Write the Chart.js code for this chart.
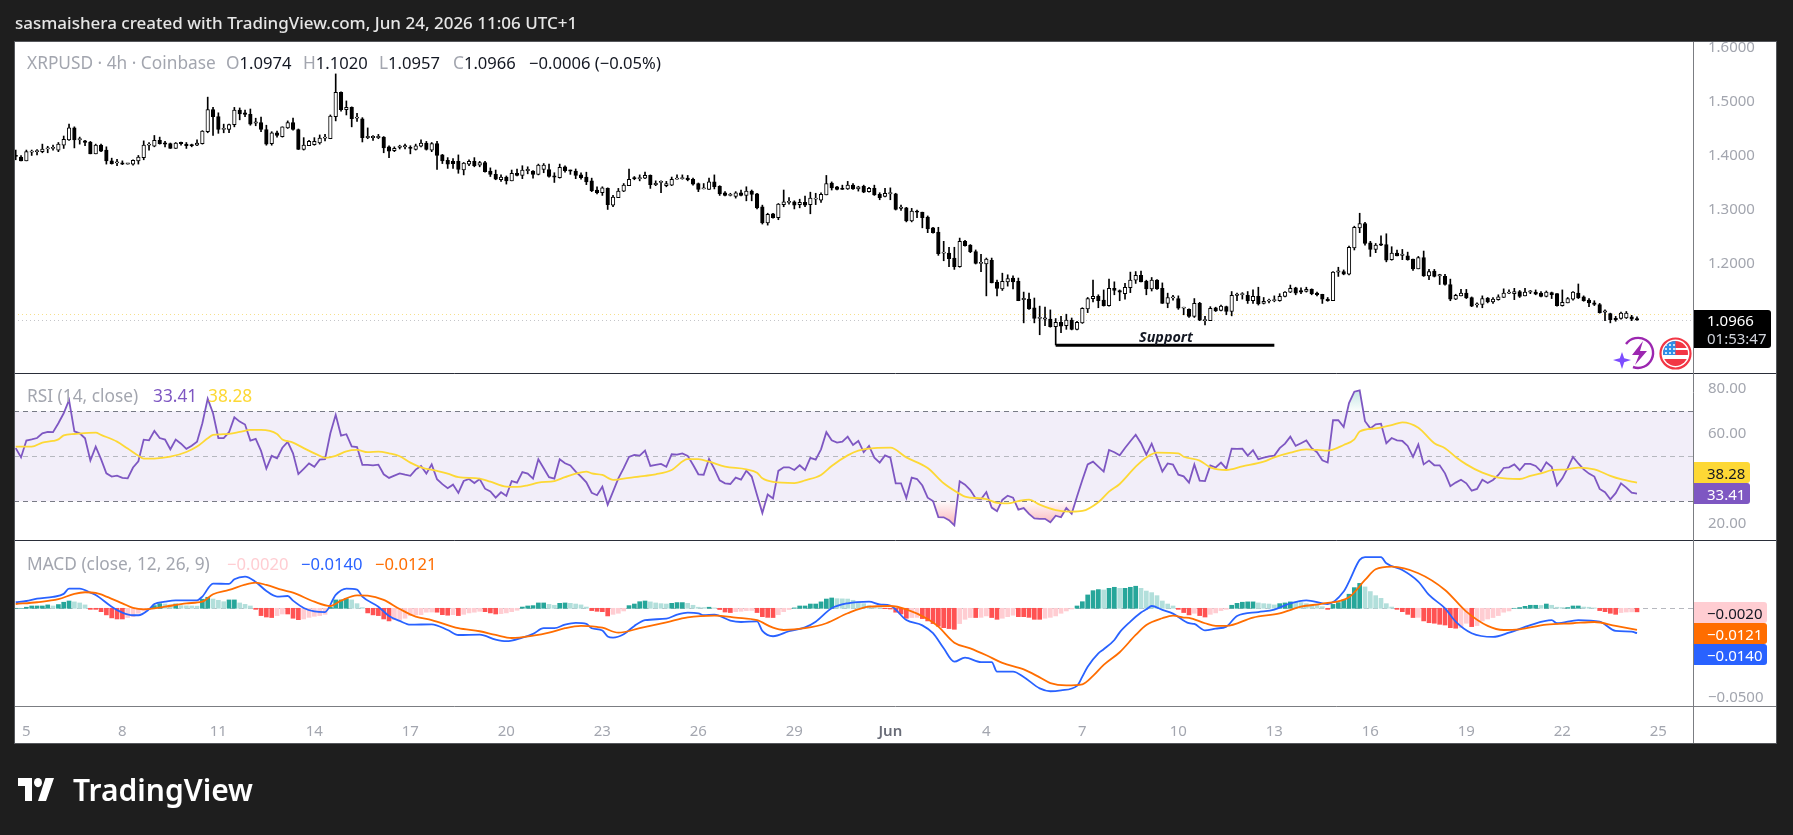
<!DOCTYPE html>
<html>
<head>
<meta charset="utf-8">
<title>XRPUSD 4h</title>
<script src="https://cdn.jsdelivr.net/npm/chart.js@4"></script>
<style>
  html,body{margin:0;padding:0;background:#1e1e1e;width:1793px;height:835px;overflow:hidden}
  canvas{position:absolute;left:0;top:0}
  .t{position:absolute;white-space:pre;font-family:"Noto Sans",sans-serif;font-size:17.3px;line-height:20px;transform:translateY(-50%)}
  .v{font-size:16.6px}
  .g{color:#a3a6af}
  .k{color:#131722}
  .box{position:absolute;left:1694px;box-sizing:border-box;padding-left:13px;border-radius:0 3px 3px 0;font-family:"Noto Sans",sans-serif;font-size:15px;display:flex;align-items:center;justify-content:flex-start}
  svg{position:absolute}
</style>
</head>
<body>
<canvas id="c" width="1793" height="835"></canvas>

<div class="t" style="left:15px;top:23px;color:#e6e6e6;font-weight:500;font-size:17px">sasmaishera created with TradingView.com, Jun 24, 2026 11:06 UTC+1</div>

<div class="t g" style="left:27px;top:63px">XRPUSD · 4h · Coinbase</div>
<div class="t g" style="left:226px;top:63px">O<span class="k v">1.0974</span></div>
<div class="t g" style="left:303px;top:63px">H<span class="k v">1.1020</span></div>
<div class="t g" style="left:379px;top:63px">L<span class="k v">1.0957</span></div>
<div class="t g" style="left:453px;top:63px">C<span class="k v">1.0966</span></div>
<div class="t k v" style="left:529px;top:63px">−0.0006 (−0.05%)</div>

<div class="t g" style="left:27px;top:396px">RSI (14, close)</div>
<div class="t" style="left:153px;top:396px;color:#7e57c2">33.41</div>
<div class="t" style="left:208px;top:396px;color:#fdd835">38.28</div>

<div class="t g" style="left:27px;top:564px">MACD (close, 12, 26, 9)</div>
<div class="t v" style="left:227px;top:564px;color:#ffcdd2">−0.0020</div>
<div class="t v" style="left:301px;top:564px;color:#2962ff">−0.0140</div>
<div class="t v" style="left:375px;top:564px;color:#ff6d00">−0.0121</div>

<div class="t k" style="left:1139px;top:337px;font-style:italic;font-weight:700;font-size:14.4px">Support</div>

<div class="box" style="top:310px;width:77px;height:38px;background:#000;color:#fff;flex-direction:column;align-items:flex-start;justify-content:center;line-height:18px"><span>1.0966</span><span style="color:#d1d4dc">01:53:47</span></div>
<div class="box" style="top:462px;width:56px;height:21px;background:#fdd835;color:#131722">38.28</div>
<div class="box" style="top:483px;width:56px;height:21px;background:#7e57c2;color:#fff">33.41</div>
<div class="box" style="top:602px;width:73px;height:21px;background:#ffcdd2;color:#131722">−0.0020</div>
<div class="box" style="top:623px;width:73px;height:21px;background:#ff6d00;color:#fff">−0.0121</div>
<div class="box" style="top:644px;width:73px;height:21px;background:#2962ff;color:#fff">−0.0140</div>

<!-- event badges on the price pane -->
<svg style="left:1613px;top:335px" width="46" height="36" viewBox="0 0 46 36">
  <path d="M13 9A15 15 0 1 1 20 32" fill="none" stroke="#9c27b0" stroke-width="2.4"/>
  <path d="M30 6L19 20h7l-4 10 12-14h-7z" fill="#9c27b0"/>
  <path d="M9 17l2.2 6.300L18 25l-6.800 2.200L9 34l-2.200-6.800L0 25l6.800-1.700z" fill="#7c4dff"/>
</svg>
<svg style="left:1659px;top:337px" width="33" height="33" viewBox="0 0 33 33">
  <defs><clipPath id="flagDisc"><circle cx="16.5" cy="16.5" r="12.5"/></clipPath></defs>
  <g clip-path="url(#flagDisc)">
    <rect width="33" height="33" fill="#fff"/>
    <rect y="4" width="33" height="7" fill="#f23645"/>
    <rect y="13" width="33" height="5" fill="#f23645"/>
    <rect y="22" width="33" height="7" fill="#f23645"/>
    <rect width="16.5" height="18" fill="#2f8fe8"/>
    <g fill="#fff"><circle cx="7" cy="8" r="1"/><circle cx="11" cy="8" r="1"/><circle cx="15" cy="8" r="1"/><circle cx="7" cy="12" r="1"/><circle cx="11" cy="12" r="1"/><circle cx="15" cy="12" r="1"/><circle cx="7" cy="16" r="1"/><circle cx="11" cy="16" r="1"/><circle cx="15" cy="16" r="1"/></g>
  </g>
  <circle cx="16.5" cy="16.5" r="15" fill="none" stroke="#f23645" stroke-width="2.2"/>
</svg>

<!-- wordmark -->
<svg style="left:18px;top:778px" width="36" height="23" viewBox="0 0 36 20" preserveAspectRatio="none"><path d="M14 20H7V7H0V0h14zM28 20h-8L27.500 0H36z" fill="#fff"/><circle cx="20" cy="4" r="4" fill="#fff"/></svg>
<div class="t" style="left:73px;top:790px;color:#fff;font-weight:600;font-size:30px;line-height:34px">TradingView</div>

<script>
// OHLC of the 4h candles, oldest first
const opens=[1.401,1.398,1.391,1.407,1.408,1.408,1.413,1.414,1.411,1.420,1.430,1.452,1.430,1.428,1.426,1.404,1.420,1.411,1.391,1.387,
1.387,1.385,1.385,1.391,1.397,1.420,1.418,1.429,1.423,1.423,1.414,1.424,1.422,1.420,1.420,1.423,1.445,1.486,1.473,1.449,
1.449,1.458,1.485,1.480,1.477,1.461,1.462,1.449,1.423,1.443,1.436,1.452,1.462,1.449,1.412,1.419,1.421,1.424,1.433,1.432,
1.473,1.518,1.486,1.490,1.470,1.469,1.434,1.434,1.434,1.435,1.417,1.410,1.416,1.417,1.416,1.412,1.418,1.424,1.411,1.423,
1.402,1.392,1.390,1.390,1.374,1.385,1.390,1.383,1.388,1.372,1.366,1.356,1.361,1.354,1.368,1.364,1.373,1.372,1.366,1.375,
1.375,1.363,1.360,1.380,1.373,1.372,1.365,1.361,1.354,1.337,1.332,1.340,1.309,1.323,1.335,1.345,1.359,1.358,1.359,1.364,
1.347,1.351,1.345,1.346,1.357,1.358,1.359,1.357,1.349,1.339,1.338,1.352,1.344,1.332,1.327,1.325,1.332,1.327,1.335,1.330,
1.306,1.276,1.293,1.286,1.310,1.314,1.315,1.310,1.314,1.310,1.320,1.318,1.328,1.350,1.343,1.340,1.339,1.346,1.339,1.344,
1.334,1.340,1.329,1.325,1.330,1.330,1.303,1.304,1.280,1.298,1.296,1.287,1.267,1.259,1.220,1.220,1.211,1.195,1.242,1.235,
1.223,1.201,1.200,1.207,1.166,1.154,1.167,1.174,1.168,1.134,1.135,1.119,1.099,1.098,1.098,1.084,1.092,1.086,1.096,1.079,
1.091,1.117,1.136,1.140,1.133,1.123,1.155,1.151,1.145,1.156,1.170,1.179,1.168,1.154,1.170,1.155,1.127,1.137,1.136,1.118,
1.116,1.103,1.127,1.095,1.095,1.119,1.114,1.121,1.112,1.142,1.143,1.142,1.132,1.140,1.127,1.131,1.132,1.132,1.140,1.148,
1.156,1.151,1.149,1.153,1.146,1.144,1.135,1.132,1.185,1.186,1.181,1.230,1.267,1.275,1.239,1.227,1.236,1.236,1.208,1.220,
1.216,1.215,1.209,1.191,1.212,1.178,1.187,1.178,1.177,1.162,1.135,1.141,1.146,1.138,1.124,1.125,1.137,1.130,1.134,1.138,
1.146,1.145,1.149,1.141,1.148,1.148,1.146,1.140,1.147,1.145,1.123,1.128,1.135,1.146,1.139,1.133,1.128,1.125,1.111,1.108,
1.099,1.099,1.100,1.102,1.0974];
const highs=[1.411,1.401,1.411,1.411,1.412,1.422,1.418,1.420,1.425,1.437,1.459,1.454,1.435,1.429,1.427,1.422,1.422,1.417,1.396,1.394,
1.391,1.386,1.393,1.401,1.428,1.425,1.438,1.435,1.427,1.424,1.425,1.426,1.425,1.422,1.430,1.447,1.509,1.490,1.480,1.459,
1.459,1.490,1.489,1.485,1.487,1.470,1.472,1.457,1.445,1.446,1.454,1.465,1.470,1.450,1.434,1.429,1.434,1.439,1.440,1.476,
1.552,1.519,1.502,1.491,1.479,1.471,1.452,1.438,1.440,1.436,1.419,1.417,1.420,1.422,1.419,1.422,1.430,1.427,1.425,1.427,
1.403,1.397,1.395,1.402,1.388,1.393,1.397,1.390,1.390,1.378,1.374,1.365,1.363,1.374,1.376,1.382,1.380,1.373,1.385,1.386,
1.385,1.369,1.385,1.382,1.374,1.376,1.369,1.370,1.359,1.343,1.343,1.341,1.327,1.340,1.349,1.376,1.362,1.365,1.370,1.365,
1.354,1.354,1.353,1.361,1.365,1.365,1.364,1.359,1.350,1.349,1.359,1.365,1.345,1.334,1.331,1.334,1.337,1.343,1.337,1.331,
1.309,1.294,1.294,1.312,1.337,1.323,1.317,1.320,1.326,1.333,1.331,1.332,1.364,1.352,1.344,1.346,1.353,1.349,1.344,1.346,
1.342,1.346,1.332,1.340,1.341,1.331,1.309,1.305,1.303,1.300,1.296,1.289,1.268,1.268,1.242,1.231,1.231,1.248,1.244,1.236,
1.226,1.218,1.211,1.211,1.170,1.183,1.180,1.178,1.174,1.148,1.146,1.137,1.122,1.120,1.115,1.099,1.103,1.107,1.100,1.094,
1.119,1.138,1.170,1.143,1.152,1.172,1.167,1.152,1.164,1.185,1.186,1.187,1.170,1.175,1.171,1.165,1.146,1.142,1.141,1.120,
1.117,1.136,1.129,1.103,1.121,1.120,1.124,1.122,1.149,1.146,1.147,1.149,1.152,1.157,1.138,1.135,1.141,1.145,1.149,1.161,
1.157,1.156,1.157,1.154,1.148,1.144,1.138,1.186,1.194,1.189,1.233,1.270,1.294,1.277,1.242,1.238,1.252,1.256,1.232,1.226,
1.227,1.222,1.209,1.214,1.224,1.190,1.190,1.181,1.181,1.172,1.144,1.153,1.153,1.139,1.128,1.141,1.138,1.138,1.143,1.154,
1.152,1.155,1.151,1.155,1.151,1.152,1.149,1.150,1.148,1.145,1.152,1.138,1.149,1.163,1.141,1.136,1.132,1.127,1.115,1.109,
1.103,1.111,1.112,1.105,1.1020];
const lows=[1.393,1.391,1.391,1.401,1.402,1.406,1.406,1.411,1.408,1.414,1.429,1.415,1.422,1.419,1.404,1.404,1.408,1.385,1.385,1.382,
1.384,1.385,1.383,1.385,1.393,1.411,1.417,1.422,1.417,1.414,1.414,1.420,1.414,1.417,1.419,1.422,1.443,1.438,1.442,1.443,
1.443,1.454,1.467,1.473,1.457,1.456,1.445,1.420,1.420,1.435,1.435,1.451,1.448,1.412,1.411,1.419,1.420,1.422,1.428,1.432,
1.465,1.483,1.476,1.454,1.464,1.426,1.432,1.429,1.432,1.406,1.397,1.408,1.413,1.413,1.404,1.411,1.417,1.411,1.408,1.375,
1.386,1.377,1.377,1.368,1.365,1.382,1.380,1.380,1.370,1.362,1.356,1.353,1.348,1.354,1.363,1.358,1.367,1.359,1.365,1.369,
1.361,1.351,1.359,1.370,1.366,1.358,1.357,1.347,1.334,1.330,1.327,1.301,1.306,1.323,1.334,1.345,1.356,1.354,1.358,1.340,
1.345,1.332,1.343,1.345,1.357,1.357,1.354,1.346,1.334,1.339,1.338,1.339,1.327,1.326,1.326,1.322,1.326,1.317,1.317,1.302,
1.274,1.272,1.285,1.282,1.306,1.311,1.302,1.304,1.306,1.293,1.310,1.314,1.328,1.337,1.337,1.338,1.338,1.338,1.335,1.332,
1.333,1.327,1.319,1.324,1.319,1.300,1.299,1.278,1.278,1.286,1.267,1.258,1.257,1.216,1.206,1.195,1.190,1.194,1.233,1.221,
1.200,1.186,1.141,1.165,1.141,1.151,1.159,1.154,1.132,1.091,1.116,1.091,1.069,1.086,1.083,1.050,1.073,1.079,1.078,1.078,
1.090,1.110,1.130,1.119,1.122,1.122,1.143,1.132,1.135,1.147,1.164,1.167,1.143,1.150,1.153,1.127,1.119,1.133,1.116,1.106,
1.101,1.101,1.095,1.087,1.095,1.112,1.113,1.106,1.104,1.132,1.135,1.127,1.127,1.124,1.126,1.128,1.130,1.131,1.139,1.147,
1.143,1.145,1.148,1.143,1.141,1.127,1.131,1.132,1.177,1.180,1.180,1.226,1.258,1.235,1.214,1.221,1.234,1.204,1.207,1.215,
1.208,1.207,1.188,1.191,1.177,1.171,1.176,1.162,1.161,1.132,1.134,1.141,1.136,1.121,1.120,1.119,1.128,1.127,1.133,1.138,
1.145,1.134,1.138,1.141,1.145,1.143,1.139,1.139,1.136,1.122,1.122,1.128,1.133,1.136,1.131,1.121,1.123,1.109,1.095,1.091,
1.094,1.098,1.099,1.095,1.0957];
const closes=[1.399,1.391,1.408,1.408,1.408,1.413,1.414,1.414,1.422,1.431,1.452,1.430,1.430,1.425,1.404,1.420,1.409,1.391,1.386,1.387,
1.385,1.385,1.392,1.398,1.420,1.420,1.429,1.423,1.422,1.414,1.424,1.423,1.419,1.419,1.424,1.446,1.486,1.473,1.449,1.449,
1.458,1.485,1.478,1.477,1.459,1.462,1.449,1.422,1.443,1.438,1.454,1.462,1.449,1.412,1.420,1.427,1.427,1.433,1.433,1.474,
1.518,1.486,1.490,1.469,1.470,1.434,1.434,1.434,1.435,1.415,1.409,1.414,1.417,1.417,1.414,1.419,1.424,1.412,1.423,1.401,
1.391,1.385,1.386,1.375,1.387,1.390,1.382,1.388,1.371,1.366,1.357,1.361,1.354,1.368,1.364,1.374,1.373,1.366,1.383,1.383,
1.362,1.361,1.379,1.373,1.372,1.364,1.360,1.352,1.336,1.332,1.341,1.310,1.324,1.335,1.346,1.357,1.358,1.359,1.364,1.347,
1.348,1.351,1.349,1.357,1.358,1.359,1.356,1.348,1.338,1.340,1.352,1.343,1.330,1.327,1.327,1.332,1.327,1.335,1.329,1.304,
1.276,1.292,1.286,1.311,1.315,1.314,1.309,1.314,1.309,1.322,1.320,1.329,1.349,1.341,1.338,1.338,1.346,1.339,1.343,1.333,
1.340,1.328,1.323,1.331,1.330,1.301,1.303,1.280,1.298,1.296,1.286,1.265,1.258,1.219,1.220,1.210,1.195,1.242,1.234,1.223,
1.201,1.201,1.209,1.165,1.155,1.168,1.173,1.167,1.132,1.135,1.117,1.099,1.099,1.098,1.084,1.092,1.085,1.096,1.079,1.092,
1.118,1.136,1.140,1.132,1.123,1.155,1.151,1.148,1.157,1.170,1.179,1.167,1.154,1.170,1.154,1.127,1.138,1.138,1.118,1.118,
1.103,1.127,1.096,1.095,1.118,1.113,1.122,1.112,1.142,1.143,1.143,1.132,1.140,1.126,1.131,1.132,1.133,1.140,1.148,1.155,
1.146,1.148,1.153,1.145,1.143,1.135,1.132,1.185,1.186,1.181,1.231,1.268,1.275,1.238,1.227,1.235,1.235,1.207,1.220,1.215,
1.217,1.208,1.191,1.212,1.178,1.186,1.177,1.178,1.162,1.135,1.142,1.146,1.137,1.122,1.125,1.136,1.130,1.135,1.139,1.146,
1.147,1.149,1.140,1.148,1.148,1.144,1.140,1.148,1.143,1.123,1.129,1.136,1.148,1.137,1.132,1.128,1.125,1.110,1.112,1.097,
1.097,1.109,1.109,1.098,1.0966];

// RSI(14) per candle
const rsi=[53.6,49.5,57.0,57.5,58.1,60.2,60.8,60.7,64.7,69.1,75.0,61.1,60.2,58.0,48.1,54.3,48.7,42.4,41.0,41.4,
40.4,40.2,45.0,47.8,57.4,57.1,61.3,58.1,57.4,53.1,57.4,55.6,53.3,54.7,56.5,64.7,75.6,69.1,58.1,58.1,
60.7,67.3,65.4,64.1,57.0,57.7,52.4,44.5,50.2,49.1,53.8,56.4,51.3,42.1,44.4,46.8,45.3,48.5,48.7,60.2,
68.4,59.2,59.8,54.4,54.1,46.2,46.2,46.0,46.3,42.0,40.4,41.4,42.4,41.8,41.3,44.1,45.7,42.3,46.4,39.8,
37.6,35.8,37.4,33.7,39.0,39.9,38.1,39.9,35.6,34.4,31.6,34.0,32.4,39.0,38.3,43.0,42.3,40.1,48.7,44.7,
40.7,40.1,48.7,46.9,45.9,43.2,41.0,38.4,33.8,32.7,36.5,28.5,34.3,40.2,44.7,49.7,50.6,50.3,52.5,45.7,
46.2,46.6,45.3,50.9,50.7,51.3,50.2,46.2,42.0,41.8,48.8,44.4,39.3,38.0,37.7,40.5,39.6,43.6,41.0,32.8,
24.8,33.0,31.3,43.5,45.1,45.1,43.9,46.0,43.9,49.3,48.5,53.1,60.7,57.1,56.1,56.5,58.7,55.0,56.8,51.8,
54.6,49.4,47.2,50.4,49.4,38.0,38.0,31.5,40.5,39.9,37.0,31.6,30.1,23.0,22.9,21.6,19.3,38.9,37.4,35.0,
31.3,30.9,34.1,27.2,25.6,30.6,32.5,31.6,26.3,27.0,24.4,22.4,22.2,22.2,20.7,23.6,22.9,27.0,24.5,32.1,
39.5,46.4,47.6,45.4,43.2,52.8,51.8,50.4,53.7,56.7,59.6,55.8,50.7,55.6,49.5,43.2,46.8,46.3,41.8,41.1,
38.3,46.3,39.2,39.0,45.9,45.0,47.2,44.5,53.4,53.3,53.4,50.3,52.7,48.7,49.4,50.0,50.3,53.6,55.6,58.7,
54.6,55.8,57.0,53.6,51.8,48.2,47.2,66.0,66.0,63.0,73.6,78.7,79.3,65.6,62.4,64.2,64.5,55.8,58.1,57.1,
56.8,54.6,49.7,55.2,46.4,48.1,46.0,46.0,42.4,36.7,38.3,39.6,38.0,34.7,35.5,39.6,38.1,39.5,41.7,44.8,
45.1,46.4,43.8,46.6,46.6,45.7,43.3,47.3,45.3,37.0,40.2,44.7,49.7,46.8,44.2,42.3,41.0,35.5,34.0,30.9,
33.6,38.0,36.1,33.8,33.41];

// RSI moving average, read at its turning points
const rsiMaBars=[0,3,5,7,8,9,11,15,16,19,21,23,24,26,29,32,34,36,37,39,42,44,46,49,50,52,54,57,58,60,62,64,66,68,70,72,74,76,79,81,83,87,89,92,94,96,98,101,103,105,107,108,
110,112,115,118,120,123,126,128,130,133,137,139,140,142,146,148,151,153,156,158,161,164,167,171,174,177,178,182,184,186,188,190,192,195,198,200,203,205,207,210,212,214,218,219,222,
224,227,230,234,236,239,242,246,249,251,252,255,258,260,263,266,268,270,272,275,278,282,284,286,288,291,293,296,299,301,304];
const rsiMa=[54.3,54.3,56.1,56.8,57.5,59.3,59.9,60.5,59.5,56.5,53.4,50.2,49.0,49.0,49.8,51.9,54.3,58.0,59.5,59.8,60.8,61.7,61.7,59.9,57.5,56.1,53.6,50.2,49.3,50.2,52.2,52.8,51.8,52.1,51.3,50.0,47.2,45.1,43.5,42.3,40.7,40.1,38.7,36.5,36.4,37.1,38.3,39.0,40.7,42.3,43.2,42.4,
41.7,39.5,40.4,41.3,42.0,43.9,48.7,48.7,47.6,45.4,44.2,42.7,40.2,38.6,38.1,39.3,41.7,45.7,50.4,52.5,53.6,53.8,49.5,44.8,38.0,33.3,32.1,31.0,29.3,29.1,30.1,30.7,28.5,26.1,25.4,25.7,29.6,34.3,37.7,45.4,49.5,51.6,51.3,49.8,48.1,
45.1,43.9,45.5,47.6,49.5,51.6,53.1,52.5,55.0,57.5,61.0,62.4,63.8,65.1,62.7,55.8,53.6,49.7,46.4,42.7,40.5,39.9,41.3,42.4,43.8,44.2,45.0,44.2,41.3,39.8,38.28];

// MACD and signal lines, read at their turning points
const macdBars=[0,2,4,7,9,10,12,14,15,18,20,22,23,25,26,28,30,34,35,37,40,41,43,45,47,49,51,52,54,56,58,60,62,64,65,68,70,72,74,78,81,83,87,90,92,95,97,99,101,103,105,107,108,
110,111,112,114,116,118,122,124,126,128,129,131,134,136,139,140,142,145,148,150,153,156,160,162,164,167,170,172,174,176,178,181,183,184,187,189,192,194,196,199,200,201,203,204,206,207,209,211,212,213,215,217,220,
221,223,225,227,229,233,236,239,242,246,249,250,252,253,256,257,260,263,265,268,270,273,277,280,284,288,289,293,297,300,303,304];
const macdLine=[.0034,.0041,.0054,.0064,.0081,.0111,.0111,.0088,.0075,.0009,-.0024,-.0039,-.0039,-.0006,.0024,.0037,.0045,.0045,.0066,.0139,.0137,.0163,.0178,.0148,.0097,.0066,.0069,.0043,.0002,-.0017,-.0021,.0075,.0111,.0105,.0066,.0009,-.0043,-.0071,-.0092,-.0090,-.0122,-.0150,-.0148,-.0176,-.0185,-.0165,-.0144,-.0112,-.0112,-.0092,-.0082,-.0088,-.0112,
-.0125,-.0159,-.0165,-.0146,-.0099,-.0067,-.0058,-.0036,-.0024,-.0028,-.0039,-.0036,-.0069,-.0077,-.0073,-.0127,-.0157,-.0129,-.0107,-.0075,0,.0028,.0037,.0022,.0015,-.0066,-.0096,-.0140,-.0225,-.0300,-.0277,-.0302,-.0302,-.0356,-.0356,-.0386,-.0450,-.0466,-.0461,-.0436,-.0384,-.0328,-.0253,-.0230,-.0178,-.0135,-.0075,-.0024,-.0006,.0013,-.0009,-.0030,-.0084,
-.0088,-.0124,-.0114,-.0103,-.0043,-.0021,-.0007,.0028,.0045,.0024,.0094,.0150,.0272,.0288,.0287,.0253,.0215,.0150,.0075,0,-.0075,-.0140,-.0161,-.0137,-.0094,-.0067,-.0084,-.0066,-.0075,-.0127,-.0131,-.0140];
const signalBars=[0,4,8,11,13,15,17,20,22,24,28,32,35,37,40,43,45,47,50,52,56,59,61,64,66,69,72,75,78,83,87,90,93,97,100,103,106,109,
110,113,117,122,126,131,135,139,142,144,148,152,156,160,164,167,171,173,176,179,182,185,189,192,194,197,200,202,204,207,210,212,215,217,219,
220,223,225,227,232,237,241,245,250,253,255,258,263,268,272,276,279,282,287,292,296,300,304];
const signalLine=[.0024,.0034,.0051,.0081,.0090,.0086,.0066,.0028,.0002,-.0006,.0009,.0028,.0037,.0079,.0103,.0133,.0144,.0131,.0103,.0088,.0037,.0013,.0043,.0073,.0071,.0047,-.0004,-.0047,-.0066,-.0112,-.0129,-.0150,-.0167,-.0154,-.0137,-.0112,-.0099,-.0105,
-.0109,-.0137,-.0112,-.0079,-.0051,-.0041,-.0052,-.0067,-.0109,-.0122,-.0112,-.0084,-.0028,.0009,.0013,-.0006,-.0060,-.0103,-.0193,-.0225,-.0264,-.0307,-.0343,-.0388,-.0420,-.0433,-.0427,-.0380,-.0318,-.0247,-.0150,-.0094,-.0056,-.0041,-.0052,
-.0054,-.0084,-.0099,-.0099,-.0052,-.0028,.0009,.0026,.0062,.0159,.0219,.0234,.0197,.0103,-.0019,-.0099,-.0122,-.0118,-.0092,-.0084,-.0077,-.0099,-.0121];

// MACD histogram per candle
const histogram=[0,0,.0006,.0013,.0013,.0013,.0019,.0013,.0021,.0034,.0041,.0036,.0030,.0019,-.0006,-.0006,-.0019,-.0037,-.0054,-.0060,
-.0060,-.0052,-.0047,-.0028,-.0015,-.0002,.0015,.0026,.0024,.0019,.0024,.0015,.0014,.0013,.0012,.0051,.0062,.0052,.0045,.0037,
.0047,.0047,.0030,.0022,.0013,-.0006,-.0041,-.0049,-.0052,-.0041,-.0032,-.0032,-.0056,-.0064,-.0060,-.0051,-.0045,-.0041,-.0034,.0006,
.0047,.0047,.0054,.0047,.0026,.0004,-.0026,-.0037,-.0041,-.0060,-.0071,-.0064,-.0063,-.0056,-.0041,-.0037,-.0036,-.0022,-.0021,-.0022,
-.0036,-.0039,-.0036,-.0041,-.0034,-.0026,-.0022,-.0017,-.0019,-.0026,-.0032,-.0030,-.0026,-.0019,-.0011,.0007,.0013,.0015,.0030,.0030,
.0022,.0017,.0028,.0030,.0028,.0024,.0019,.0007,-.0013,-.0017,-.0019,-.0043,-.0034,-.0028,-.0015,.0015,.0024,.0037,.0041,.0036,
.0030,.0026,.0024,.0028,.0032,.0032,.0028,.0017,.0006,.0004,.0006,.0002,-.0007,-.0021,-.0024,-.0019,-.0017,-.0013,-.0012,-.0024,
-.0047,-.0051,-.0052,-.0036,-.0019,-.0007,.0002,.0013,.0013,.0024,.0024,.0036,.0052,.0058,.0054,.0053,.0052,.0045,.0032,.0026,
.0015,.0004,.0002,-.0002,-.0004,-.0022,-.0032,-.0056,-.0052,-.0051,-.0058,-.0071,-.0086,-.0101,-.0109,-.0114,-.0118,-.0086,-.0062,-.0052,
-.0052,-.0051,-.0043,-.0052,-.0062,-.0056,-.0047,-.0039,-.0047,-.0047,-.0051,-.0062,-.0062,-.0056,-.0051,-.0043,-.0028,-.0015,-.0004,.0013,
.0037,.0075,.0099,.0105,.0103,.0112,.0118,.0112,.0112,.0118,.0124,.0112,.0097,.0088,.0071,.0041,.0024,.0013,-.0006,-.0024,
-.0037,-.0028,-.0041,-.0049,-.0034,-.0026,-.0013,-.0006,.0017,.0028,.0034,.0036,.0036,.0030,.0026,.0024,.0019,.0026,.0030,.0036,
.0034,.0032,.0026,.0022,.0019,.0009,-.0006,.0022,.0032,.0047,.0079,.0116,.0140,.0120,.0094,.0071,.0056,.0026,.0007,-.0006,
-.0019,-.0034,-.0052,-.0051,-.0071,-.0081,-.0084,-.0090,-.0094,-.0109,-.0112,-.0109,-.0084,-.0103,-.0097,-.0071,-.0060,-.0052,-.0041,-.0022,
-.0015,0,.0004,.0011,.0017,.0017,.0016,.0024,.0017,.0006,.0004,.0004,.0013,.0013,.0007,.0006,.0002,-.0013,-.0019,-.0028,
-.0034,-.0024,-.0021,-.0020,-.0020];

// Time axis: one label every 18 candles
const tickBars=[2,20,38,56,74,92,110,128,146,164,182,200,218,236,254,272,290,308];
const tickLabels=["5","8","11","14","17","20","23","26","29","Jun","4","7","10","13","16","19","22","25"];
const priceTicks=[1.6,1.5,1.4,1.3,1.2];
const rsiTicks=[80,60,20];
const macdTicks=[-0.05];

// Horizontal levels
const supportBars=[195,236];
const supportPrice=[1.0494,1.0494];
const lastPrice=1.0966;
const prevClosePrice=1.107;
const rsiBand=[30,70];
const rsiMid=50;

const FONT='"Noto Sans",sans-serif';
const canvas=document.getElementById('c');
const ctx=canvas.getContext('2d');

const pinkFade=ctx.createLinearGradient(0,501,0,526);
pinkFade.addColorStop(0,'rgba(242,54,69,0.02)');
pinkFade.addColorStop(1,'rgba(242,54,69,0.38)');
const greenFade=ctx.createLinearGradient(0,411,0,386);
greenFade.addColorStop(0,'rgba(38,166,154,0.02)');
greenFade.addColorStop(1,'rgba(38,166,154,0.32)');

const histColor=histogram.map((v,i)=>{
  const p=i?histogram[i-1]:0;
  return v>=0?(v>=p?'#26a69a':'#b2dfdb'):(v<=p?'#ff5252':'#ffcdd2');
});
const toPoints=(bars,vals)=>bars.map((b,i)=>({x:b,y:vals[i]}));
const fixTicks=list=>s=>{s.ticks=list.map(v=>({value:v}));};
const axisWidth=s=>{s.width=84;};

const yCommon={position:'right',stack:'panes',grid:{display:false},border:{display:false},
  afterFit:axisWidth};
const tickStyle={color:'#a3a6af',font:{family:FONT,size:15},padding:7,autoSkip:false,crossAlign:'near'};
const lineStyle={pointRadius:0,borderWidth:1.8};

const paneDecor={
  id:'paneDecor',
  beforeDraw(ch){
    const c=ch.ctx;
    c.save();
    c.fillStyle='#fff';
    c.fillRect(14,41,1763,703);
    c.restore();
  },
  beforeDatasetsDraw(ch){
    const c=ch.ctx,a=ch.chartArea,S=ch.scales;
    const hline=(y,color,dash,w)=>{c.strokeStyle=color;c.lineWidth=w||1;c.setLineDash(dash);c.beginPath();c.moveTo(a.left,Math.round(y)+.5);c.lineTo(a.right,Math.round(y)+.5);c.stroke();};
    c.save();
    c.fillStyle='rgba(126,87,194,0.1)';
    const top=S.rsi.getPixelForValue(rsiBand[1]),bot=S.rsi.getPixelForValue(rsiBand[0]);
    c.fillRect(a.left,top,a.right-a.left,bot-top);
    hline(top,'#787b86',[5,4]);
    hline(bot,'#787b86',[5,4]);
    hline(S.rsi.getPixelForValue(rsiMid),'#b6b8bf',[5,4]);
    hline(S.macd.getPixelForValue(0),'#b6b8bf',[5,4]);
    hline(S.y.getPixelForValue(prevClosePrice),'#f7e08a',[1,3]);
    hline(S.y.getPixelForValue(lastPrice),'#c4c5c9',[1,3]);
    c.restore();
  },
  afterDraw(ch){
    const c=ch.ctx,a=ch.chartArea,S=ch.scales;
    c.save();
    c.lineWidth=1;
    c.strokeStyle='#2a2e39';
    [S.y.bottom,S.rsi.bottom].forEach(y=>{c.beginPath();c.moveTo(14,Math.round(y)+.5);c.lineTo(1777,Math.round(y)+.5);c.stroke();});
    c.strokeStyle='#7b7d82';
    c.beginPath();c.moveTo(a.right+.5,41);c.lineTo(a.right+.5,744);c.stroke();
    c.beginPath();c.moveTo(14,Math.round(a.bottom)+.5);c.lineTo(1777,Math.round(a.bottom)+.5);c.stroke();
    c.strokeStyle='#55575b';
    c.strokeRect(14.5,41.5,1762,702);
    c.restore();
  }
};

new Chart(ctx,{
  type:'bar',
  data:{datasets:[
    {type:'line',label:'MACD',data:toPoints(macdBars,macdLine),yAxisID:'macd',borderColor:'#2962ff',cubicInterpolationMode:'monotone',...lineStyle,order:2},
    {type:'line',label:'Signal',data:toPoints(signalBars,signalLine),yAxisID:'macd',borderColor:'#ff6d00',cubicInterpolationMode:'monotone',...lineStyle,order:1},
    {label:'Histogram',data:histogram.map((v,i)=>({x:i,y:v})),yAxisID:'macd',backgroundColor:histColor,barThickness:4,grouped:false,order:6},
    {type:'line',label:'RSI',data:rsi.map((v,i)=>({x:i,y:v})),yAxisID:'rsi',borderColor:'#7e57c2',...lineStyle,tension:0,order:2,
      fill:{target:{value:rsiBand[0]},above:'rgba(0,0,0,0)',below:pinkFade}},
    {type:'line',label:'RSI overbought',data:rsi.map((v,i)=>({x:i,y:v})),yAxisID:'rsi',borderWidth:0,borderColor:'rgba(0,0,0,0)',pointRadius:0,tension:0,order:3,
      fill:{target:{value:rsiBand[1]},above:greenFade,below:'rgba(0,0,0,0)'}},
    {type:'line',label:'RSI MA',data:toPoints(rsiMaBars,rsiMa),yAxisID:'rsi',borderColor:'#fdd835',cubicInterpolationMode:'monotone',...lineStyle,order:1},
    {type:'line',label:'Support',data:toPoints(supportBars,supportPrice),yAxisID:'y',borderColor:'#000',borderWidth:3,pointRadius:0,tension:0,order:1},
    {label:'Wick',data:lows.map((l,i)=>({x:i,y:[l,highs[i]]})),yAxisID:'y',backgroundColor:'#000',barThickness:1,grouped:false,order:5},
    {label:'Body',data:opens.map((o,i)=>({x:i,y:[o,closes[i]]})),yAxisID:'y',
      backgroundColor:opens.map((o,i)=>closes[i]>=o?'#fff':'#000'),borderColor:'#000',borderWidth:1,borderSkipped:false,barThickness:3.6,minBarLength:1.2,grouped:false,order:4}
  ]},
  options:{
    responsive:false,animation:false,devicePixelRatio:1,
    layout:{padding:{left:14,top:41,right:16,bottom:91}},
    plugins:{legend:{display:false},tooltip:{enabled:false}},
    scales:{
      x:{type:'linear',offset:false,min:-0.32,max:314.5,grid:{display:false},border:{display:false},
        afterBuildTicks:fixTicks(tickBars),
        afterFit:s=>{s.height=38;},
        ticks:{autoSkip:false,maxRotation:0,padding:9,
          color:c=>tickLabels[c.index]==='Jun'?'#6a6d78':'#a3a6af',
          font:c=>({family:FONT,size:15,weight:tickLabels[c.index]==='Jun'?'600':'400'}),
          callback:(v,i)=>tickLabels[i]}},
      y:{...yCommon,stackWeight:332,weight:0,min:0.99815,max:1.61296,afterBuildTicks:fixTicks(priceTicks),
        ticks:{...tickStyle,callback:v=>v.toFixed(4)}},
      rsi:{...yCommon,stackWeight:167,weight:1,min:12.8,max:87,afterBuildTicks:fixTicks(rsiTicks),
        ticks:{...tickStyle,callback:v=>v.toFixed(2)}},
      macd:{...yCommon,stackWeight:166,weight:2,min:-0.0549,max:0.03837,afterBuildTicks:fixTicks(macdTicks),
        ticks:{...tickStyle,callback:v=>'−'+Math.abs(v).toFixed(4)}}
    }
  },
  plugins:[paneDecor]
});
</script>
</body>
</html>
